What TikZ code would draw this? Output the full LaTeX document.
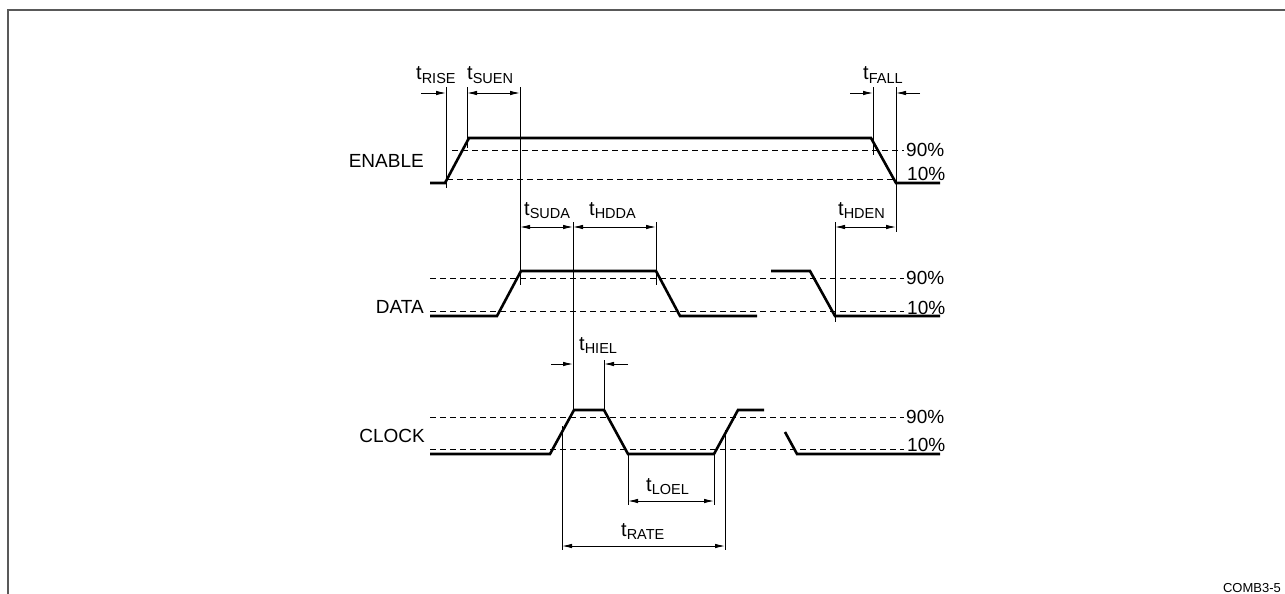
\documentclass[tikz,border=0pt]{standalone}
\usepackage{fontspec}
\setmainfont{Liberation Sans}
\usetikzlibrary{arrows.meta}
\newcommand{\tlab}[1]{{\fontsize{20}{20}\selectfont t}\raisebox{-3.5pt}{\fontsize{14.5}{14.5}\selectfont #1}}
\begin{document}
\begin{tikzpicture}[x=1pt,y=-1pt,
  sig/.style={line width=2.6pt},
  guide/.style={line width=0.9pt},
  lvl/.style={dash pattern=on 6pt off 4pt, line width=0.9pt},
  dimr/.style={line width=0.9pt, -{Latex[length=10pt,width=4.5pt]}},
  ddim/.style={line width=0.9pt, {Latex[length=10pt,width=4.5pt]}-{Latex[length=10pt,width=4.5pt]}},
  lab/.style={font=\fontsize{19}{19}\selectfont, inner sep=0pt},
]
\useasboundingbox (0,0) rectangle (1285,594);
% frame
\draw[line width=1.5pt, black!65] (8,600) -- (8,10) -- (1290,10);

% ---------- ENABLE ----------
\draw[sig] (430,183) -- (445,183) -- (469,138) -- (871,138) -- (896,183) -- (940,183);
\draw[lvl] (452,150) -- (904,150);
\draw[lvl] (447,179) -- (896,179);
\coordinate (r1) at (446,87);  \coordinate (r1b) at (446,188);
\coordinate (r2) at (467,87);  \coordinate (r2b) at (467,148);
\coordinate (s1) at (520,87);  \coordinate (s1b) at (520,285);
\coordinate (f1) at (873,87);  \coordinate (f1b) at (873,155);
\coordinate (f2) at (896,87);  \coordinate (f2b) at (896,232);
\draw[guide] (r1) -- (r1b);
\draw[guide] (r2) -- (r2b);
\draw[guide] (s1) -- (s1b);
\draw[guide] (f1) -- (f1b);
\draw[guide] (f2) -- (f2b);
\draw[dimr] (421,93) -- (446,93);
\draw[ddim] (467,93) -- (520,93);
\draw[dimr] (850,93) -- (873,93);
\draw[dimr] (920,93) -- (896,93);
\node[lab, anchor=base west] (trise) at (416,80) {\tlab{RISE}};
\node[lab, anchor=base west] (tsuen) at (467,80) {\tlab{SUEN}};
\node[lab, anchor=base west] (tfall) at (863,80) {\tlab{FALL}};
\node[lab, anchor=base east] (enable) at (424,167) {ENABLE};
\node[lab, anchor=base west] (e90) at (906,156) {90\%};
\node[lab, anchor=base west] (e10) at (907,180) {10\%};

% ---------- DATA ----------
\draw[sig] (430,316) -- (497,316) -- (521,271) -- (656,271) -- (680,316) -- (757,316);
\draw[sig] (771,271) -- (810,271) -- (835,316) -- (940,316);
\draw[lvl] (430,278) -- (904,278);
\draw[lvl] (430,311) -- (904,311);
\draw[guide] (573,222) -- (573,410);
\draw[guide] (656,222) -- (656,285);
\draw[guide] (835,222) -- (835,322);
\draw[ddim] (520,227) -- (573,227);
\draw[ddim] (573,227) -- (656,227);
\draw[ddim] (835,227) -- (896,227);
\node[lab, anchor=base west] (tsuda) at (524,215) {\tlab{SUDA}};
\node[lab, anchor=base west] (thdda) at (589,215) {\tlab{HDDA}};
\node[lab, anchor=base west] (thden) at (838,215) {\tlab{HDEN}};
\node[lab, anchor=base east] (data) at (424,313) {DATA};
\node[lab, anchor=base west] (d90) at (906,284) {90\%};
\node[lab, anchor=base west] (d10) at (907,314) {10\%};

% ---------- CLOCK ----------
\draw[sig] (430,454) -- (550,454) -- (574,410) -- (604,410) -- (628,454) -- (714,454) -- (738,410) -- (764,410);
\draw[sig] (785,432) -- (797,454) -- (940,454);
\draw[lvl] (430,417) -- (904,417);
\draw[lvl] (430,449) -- (904,449);
\draw[guide] (562,426) -- (562,550);
\draw[guide] (604,360) -- (604,410);
\draw[guide] (628,454) -- (628,505);
\draw[guide] (714,454) -- (714,505);
\draw[guide] (725,430) -- (725,550);
\draw[dimr] (551,364) -- (573,364);
\draw[dimr] (628,364) -- (604,364);
\draw[ddim] (628,501) -- (714,501);
\draw[ddim] (562,546) -- (725,546);
\node[lab, anchor=base west] (thiel) at (579,350) {\tlab{HIEL}};
\node[lab, anchor=base west] (tloel) at (646,491) {\tlab{LOEL}};
\node[lab, anchor=base west] (trate) at (621,536) {\tlab{RATE}};
\node[lab, anchor=base east] (clock) at (425,442) {CLOCK};
\node[lab, anchor=base west] (c90) at (906,423) {90\%};
\node[lab, anchor=base west] (c10) at (907,451) {10\%};

\node[inner sep=0pt, anchor=base east, font=\fontsize{13}{13}\selectfont] (comb) at (1281,592) {COMB3-5};
\end{tikzpicture}
\end{document}
